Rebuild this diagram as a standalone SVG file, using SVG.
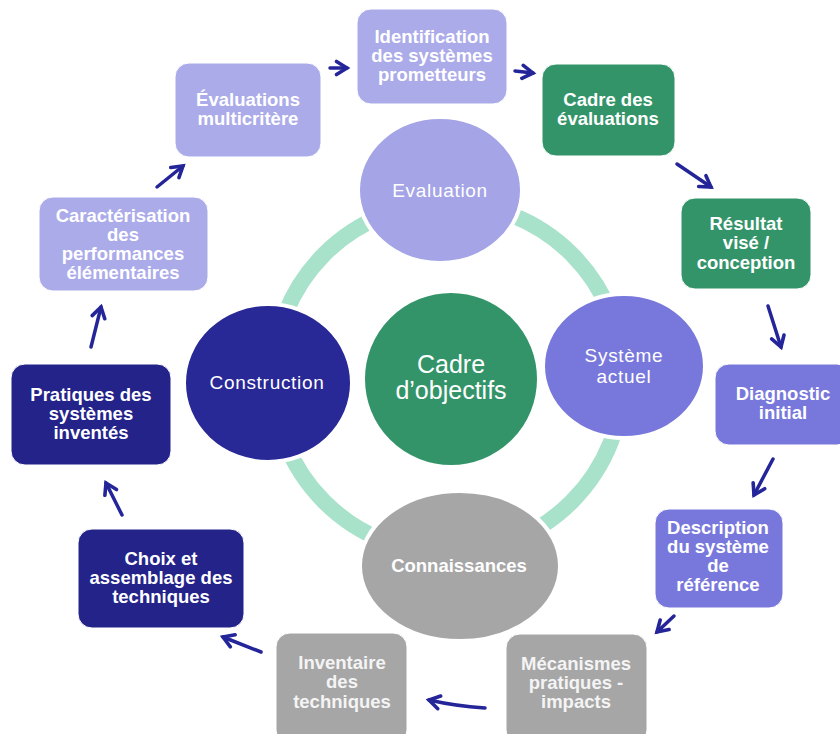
<svg xmlns="http://www.w3.org/2000/svg" width="840" height="734" viewBox="0 0 840 734">
<style>
.bx{stroke:#ffffff;stroke-width:1}
.t{font-family:"Liberation Sans",Arial,sans-serif;font-weight:bold;font-size:18.5px;fill:#ffffff;text-anchor:middle}
.tg{fill:#f4f4f4}
.e{font-family:"Liberation Sans",Arial,sans-serif;font-size:19px;letter-spacing:0.7px;fill:#ffffff;text-anchor:middle}
.el{stroke:#ffffff;stroke-width:4}
.ar{fill:none;stroke:#25259a;stroke-width:3.5;stroke-linecap:round;marker-end:url(#ah)}
</style>
<defs>
<marker id="ah" markerUnits="userSpaceOnUse" markerWidth="18" markerHeight="18" refX="14" refY="9" orient="auto" viewBox="0 0 18 18">
<path d="M3.5,2.5 L14,9 L3.5,15.5" fill="none" stroke="#25259a" stroke-width="3.6" stroke-linecap="round" stroke-linejoin="miter"/>
</marker>
</defs>
<rect width="840" height="734" fill="#ffffff"/>
<g id="ring">
<circle cx="448" cy="378" r="175" fill="none" stroke="#a8e2ca" stroke-width="16"/>
</g>
<g id="n-evaluation">
<ellipse class="el" cx="440" cy="190" rx="82" ry="73" fill="#a4a4e6"/>
<text class="e" x="440" y="197">Evaluation</text>
</g>
<g id="n-systeme">
<ellipse class="el" cx="624" cy="366" rx="81" ry="72" fill="#7878dc"/>
<text class="e" x="624" y="362">Système</text>
<text class="e" x="624" y="383">actuel</text>
</g>
<g id="n-construction">
<ellipse class="el" cx="268" cy="383" rx="84" ry="79" fill="#282896"/>
<text class="e" x="267" y="389">Construction</text>
</g>
<g id="n-connaissances">
<ellipse class="el" cx="460" cy="566" rx="100" ry="75" fill="#a6a6a6"/>
<text class="t" x="459" y="572">Connaissances</text>
</g>
<g id="n-cadre-objectifs">
<circle cx="451" cy="379" r="87" fill="#339469" stroke="#ffffff" stroke-width="2"/>
<text x="451" y="373" font-family="Liberation Sans,Arial,sans-serif" font-size="25" fill="#ffffff" text-anchor="middle">Cadre</text>
<text x="451" y="399" font-family="Liberation Sans,Arial,sans-serif" font-size="25" fill="#ffffff" text-anchor="middle">d’objectifs</text>
</g>
<g id="b-evaluations">
<rect class="bx" x="175" y="63" width="146" height="94" rx="14" fill="#ababea"/>
<text class="t" x="248" y="106">Évaluations</text>
<text class="t" x="248" y="125">multicritère</text>
</g>
<g id="b-identification">
<rect class="bx" x="357" y="9" width="150" height="95" rx="14" fill="#ababea"/>
<text class="t" x="432" y="43">Identification</text>
<text class="t" x="432" y="62">des systèmes</text>
<text class="t" x="432" y="81">prometteurs</text>
</g>
<g id="b-cadre-evaluations">
<rect class="bx" x="542" y="64" width="133" height="92" rx="14" fill="#339469"/>
<text class="t" x="608" y="106">Cadre des</text>
<text class="t" x="608" y="125">évaluations</text>
</g>
<g id="b-resultat">
<rect class="bx" x="681" y="198" width="130" height="91" rx="14" fill="#339469"/>
<text class="t" x="746" y="230">Résultat</text>
<text class="t" x="746" y="249">visé /</text>
<text class="t" x="746" y="269">conception</text>
</g>
<g id="b-diagnostic">
<rect class="bx" x="715" y="364" width="136" height="81" rx="14" fill="#7878dc"/>
<text class="t" x="783" y="400">Diagnostic</text>
<text class="t" x="783" y="419">initial</text>
</g>
<g id="b-description">
<rect class="bx" x="655" y="509" width="128" height="99" rx="14" fill="#7878dc"/>
<text class="t" x="718" y="534">Description</text>
<text class="t" x="718" y="553">du système</text>
<text class="t" x="718" y="572">de</text>
<text class="t" x="718" y="591">référence</text>
</g>
<g id="b-mecanismes">
<rect class="bx" x="506" y="634" width="141" height="110" rx="14" fill="#a6a6a6"/>
<text class="t tg" x="576" y="670">Mécanismes</text>
<text class="t tg" x="576" y="689">pratiques -</text>
<text class="t tg" x="576" y="708">impacts</text>
</g>
<g id="b-inventaire">
<rect class="bx" x="276" y="633" width="131" height="111" rx="14" fill="#a6a6a6"/>
<text class="t tg" x="342" y="669">Inventaire</text>
<text class="t tg" x="342" y="688">des</text>
<text class="t tg" x="342" y="708">techniques</text>
</g>
<g id="b-choix">
<rect class="bx" x="78" y="529" width="166" height="99" rx="14" fill="#23238a"/>
<text class="t" x="161" y="565">Choix et</text>
<text class="t" x="161" y="584">assemblage des</text>
<text class="t" x="161" y="603">techniques</text>
</g>
<g id="b-pratiques">
<rect class="bx" x="11" y="364" width="160" height="101" rx="14" fill="#23238a"/>
<text class="t" x="91" y="401">Pratiques des</text>
<text class="t" x="91" y="420">systèmes</text>
<text class="t" x="91" y="439">inventés</text>
</g>
<g id="b-caracterisation">
<rect class="bx" x="39" y="197" width="169" height="94" rx="14" fill="#ababea"/>
<text class="t" x="123" y="222">Caractérisation</text>
<text class="t" x="123" y="241">des</text>
<text class="t" x="123" y="260">performances</text>
<text class="t" x="123" y="279">élémentaires</text>
</g>
<g id="connectors">
<path class="ar" d="M157,187 L183,166"/>
<path class="ar" d="M330,68 L347,68"/>
<path class="ar" d="M515,71 L533,73"/>
<path class="ar" d="M677,164 L711,187"/>
<path class="ar" d="M768,306 L781,347"/>
<path class="ar" d="M773,459 L754,495"/>
<path class="ar" d="M674,616 L657,632"/>
<path class="ar" d="M485,708 Q455,706 429,700"/>
<path class="ar" d="M261,652 L223,637"/>
<path class="ar" d="M122,515 L106,483"/>
<path class="ar" d="M91,347 L101,307"/>
</g>
</svg>
